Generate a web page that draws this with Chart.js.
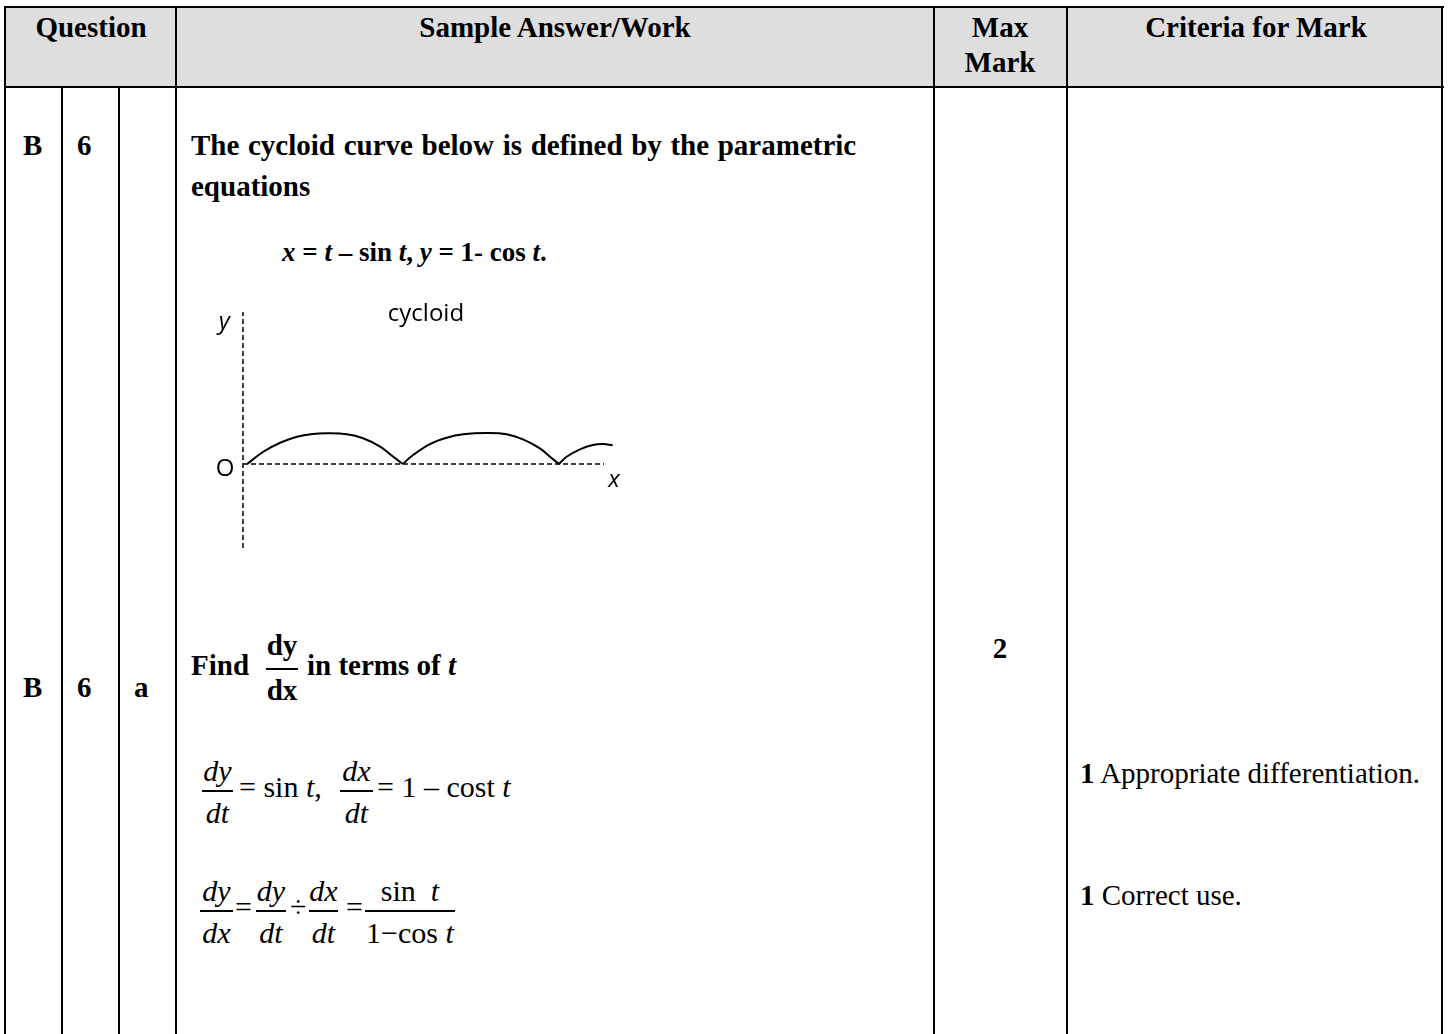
<!DOCTYPE html>
<html>
<head>
<meta charset="utf-8">
<script src="https://cdn.jsdelivr.net/npm/chart.js@4.4.1/dist/chart.umd.min.js"></script>
<style>
  body { margin: 0; background: #fff; }
  #page { position: relative; width: 1450px; height: 1034px; overflow: hidden; font-family: "Liberation Serif", "Times New Roman", serif; color: #000; }
  .t { position: absolute; white-space: nowrap; line-height: 1; }
  .b { font-weight: bold; }
  .line { position: absolute; background: #000; }
  #cycloidChart { position: absolute; left: 190px; top: 280px; }
</style>
</head>
<body>
<div id="page">
  <canvas id="cycloidChart" width="460" height="290"></canvas>
</div>
<script>
// cycloid arches (x in t-units, y = height)
const arch1X = [0, 0.65, 1.33, 2.01, 2.66, 3.22, 4.02, 4.68, 5.37, 5.90, 6.28];
const arch1Y = [0, 0.79, 1.37, 1.76, 1.94, 1.98, 1.92, 1.66, 1.12, 0.47, 0];
const arch2X = [6.28, 6.70, 7.38, 8.06, 8.72, 9.67, 10.48, 11.14, 11.82, 12.23, 12.59];
const arch2Y = [0, 0.58, 1.29, 1.70, 1.92, 2.0, 1.92, 1.59, 1.01, 0.47, 0];
const arch3X = [12.59, 12.90, 13.44, 13.96, 14.38, 14.76];
const arch3Y = [0, 0.47, 0.95, 1.23, 1.29, 1.21];
// dashed axes
const xAxisX = [-0.17, 14.41];
const xAxisY = [0, 0];
const yAxisX = [-0.17, -0.17];
const yAxisY = [-5.42, 9.81];

const page = document.getElementById("page");

function toPoints(xs, ys) {
  return xs.map((x, i) => ({ x: x, y: ys[i] }));
}

function put(html, x, base, size, cls, center) {
  const el = document.createElement("div");
  el.className = "t " + (cls || "");
  el.innerHTML = html;
  el.style.fontSize = size + "px";
  el.style.top = (base - size * 0.8375) + "px";
  el.style.left = x + "px";
  if (center) el.style.transform = "translateX(-50%)";
  page.appendChild(el);
  return el;
}

function box(x, y, w, h, color) {
  const el = document.createElement("div");
  el.className = "line";
  el.style.left = x + "px";
  el.style.top = y + "px";
  el.style.width = w + "px";
  el.style.height = h + "px";
  if (color) el.style.background = color;
  page.appendChild(el);
}

function frac(num, den, x1, x2, barY, numBase, denBase, size, cls) {
  const mid = (x1 + x2) / 2;
  put(num, mid, numBase, size, cls, true);
  put(den, mid, denBase, size, cls, true);
  box(x1, barY, x2 - x1, 1.5);
}

// table grid
box(5, 7, 1438, 80, "#dedede");
box(5, 6, 1439, 2);
box(5, 86, 1439, 2);
box(4, 6, 2, 1030);
box(175, 6, 2, 1030);
box(933, 6, 2, 1030);
box(1066, 6, 2, 1030);
box(1441, 6, 2, 1030);
box(61, 86, 2, 950);
box(118, 86, 2, 950);

// header
put("Question", 91, 37, 29, "b", true);
put("Sample Answer/Work", 555, 37, 29, "b", true);
put("Max", 1000, 37, 29, "b", true);
put("Mark", 1000, 72, 29, "b", true);
put("Criteria for Mark", 1256, 37, 29, "b", true);

// question B6
put("B", 23, 155, 29, "b");
put("6", 77, 155, 29, "b");
put("The cycloid curve below is defined by the parametric", 191, 155, 29, "b").style.wordSpacing = "1.4px";
put("equations", 191, 196, 29, "b");
put("<i>x</i> = <i>t</i> – sin <i>t</i>, <i>y</i> = 1- cos <i>t</i>.", 282, 262, 27, "b");

// part a
put("B", 23, 697, 29, "b");
put("6", 77, 697, 29, "b");
put("a", 134, 697, 29, "b");
put("Find", 191, 675, 29, "b");
frac("dy", "dx", 266, 298, 668, 655, 700, 29, "b");
put("in terms of <i>t</i>", 307, 675, 29, "b");
put("2", 1000, 658, 29, "b", true);

frac("<i>dy</i>", "<i>dt</i>", 202, 233, 790, 781, 823, 30);
put("= sin <i>t</i>,", 239, 797, 30);
frac("<i>dx</i>", "<i>dt</i>", 340, 373, 790, 781, 823, 30);
put("= 1 – cost <i>t</i>", 377, 797, 30);

frac("<i>dy</i>", "<i>dx</i>", 200, 233, 910, 901, 943, 30);
put("=", 235, 917, 30);
frac("<i>dy</i>", "<i>dt</i>", 256, 286, 910, 901, 943, 30);
put("÷", 290, 917, 30);
frac("<i>dx</i>", "<i>dt</i>", 309, 338, 910, 901, 943, 30);
put("=", 346, 917, 30);
frac("sin&nbsp; <i>t</i>", "1−cos <i>t</i>", 365, 455, 910, 901, 943, 30);

put("<b>1</b> Appropriate differentiation.", 1080, 783, 29);
put("<b>1</b> Correct use.", 1080, 905, 29);

// labels round the cycloid
const cycloidLabels = {
  id: "cycloidLabels",
  afterDatasetsDraw(chart) {
    const ctx = chart.ctx;
    const x = chart.scales.x;
    const y = chart.scales.y;
    ctx.save();
    ctx.fillStyle = "#000";
    ctx.textAlign = "center";
    ctx.textBaseline = "middle";
    ctx.font = "24px 'Open Sans'";
    ctx.fillText("cycloid", x.getPixelForValue(7.22), y.getPixelForValue(9.68));
    ctx.fillText("O", x.getPixelForValue(-0.89), y.getPixelForValue(-0.32));
    ctx.font = "italic 24px 'Open Sans'";
    ctx.fillText("y", x.getPixelForValue(-0.93), y.getPixelForValue(9.16));
    ctx.fillText("x", x.getPixelForValue(14.81), y.getPixelForValue(-1.03));
    ctx.restore();
  },
};

const curveStyle = {
  showLine: true,
  borderColor: "#000",
  borderWidth: 2,
  pointRadius: 0,
  tension: 0.4,
  clip: false,
};
const axisStyle = {
  showLine: true,
  borderColor: "#000",
  borderWidth: 1.5,
  borderDash: [5, 3],
  pointRadius: 0,
  clip: false,
};

new Chart(document.getElementById("cycloidChart"), {
  type: "scatter",
  data: {
    datasets: [
      { ...axisStyle, data: toPoints(xAxisX, xAxisY) },
      { ...axisStyle, data: toPoints(yAxisX, yAxisY) },
      { ...curveStyle, data: toPoints(arch1X, arch1Y) },
      { ...curveStyle, data: toPoints(arch2X, arch2Y) },
      { ...curveStyle, data: toPoints(arch3X, arch3Y) },
    ],
  },
  options: {
    responsive: false,
    animation: false,
    layout: { padding: { left: 53, right: 46, top: 32, bottom: 22 } },
    plugins: { legend: { display: false }, tooltip: { enabled: false } },
    scales: {
      x: { type: "linear", min: -0.17, max: 14.41, display: false },
      y: { type: "linear", min: -5.42, max: 9.81, display: false },
    },
  },
  plugins: [cycloidLabels],
});
</script>
</body>
</html>
